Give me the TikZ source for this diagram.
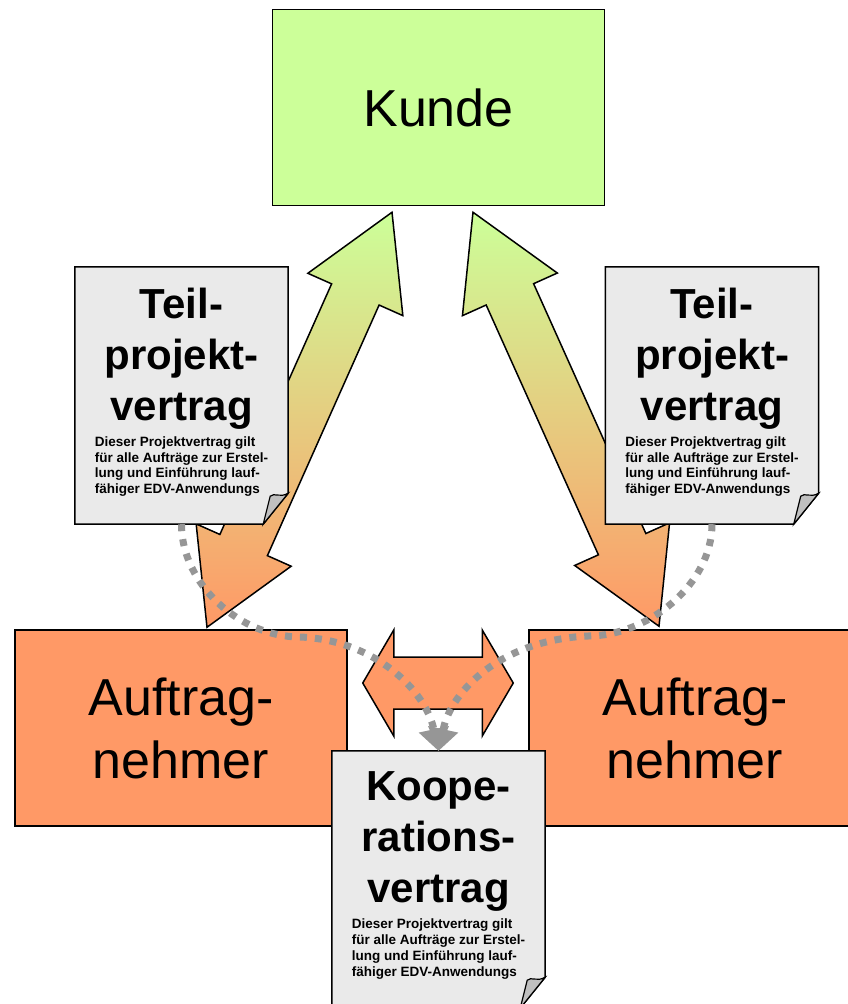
\documentclass[tikz,border=0pt]{standalone}
\usepackage{fontspec}
\setmainfont{Liberation Sans}
\usetikzlibrary{calc,positioning,arrows.meta}
\definecolor{kundegruen}{HTML}{CCFF99}
\definecolor{anorange}{HTML}{FF9966}
\definecolor{blattgrau}{HTML}{EAEAEA}
\definecolor{eckgrau}{HTML}{C0C0C0}
\definecolor{punktgrau}{HTML}{969696}

% #1 style, #2 from, #3 to, #4 head length, #5 head half width, #6 shaft half width
\newcommand\doppelpfeil[6]{%
  \coordinate (ba) at ($(#2)!#4!(#3)$);
  \coordinate (bb) at ($(#3)!#4!(#2)$);
  \draw[#1] (#2) -- ($(ba)!#5!90:(#3)$) -- ($(ba)!#6!90:(#3)$) -- ($(bb)!#6!-90:(#2)$)
    -- ($(bb)!#5!-90:(#2)$) -- (#3) -- ($(bb)!#5!90:(#2)$) -- ($(bb)!#6!90:(#2)$)
    -- ($(ba)!#6!-90:(#3)$) -- ($(ba)!#5!-90:(#3)$) -- cycle;
}
\newcommand\vertragstext{Dieser Projektvertrag gilt\\für alle Aufträge zur Erstel-\\lung und Einführung lauf-\\fähiger EDV-Anwendungs}
% #1 name, #2 centre, #3 title
\newcommand\vertrag[3]{%
  \node[blatt] (#1) at (#2) {};
  \draw[line width=1.5pt,fill=blattgrau] (#1.north west) -- (#1.north east) -- ([yshift=31pt]#1.south east)
    -- ([xshift=-25pt]#1.south east) -- (#1.south west) -- cycle;
  \draw[line width=1.2pt,fill=eckgrau] ([yshift=31pt]#1.south east) .. controls +(-8,5) and +(4,-4) .. ++(-18,3)
    -- ([xshift=-25pt]#1.south east) -- cycle;
  \node[blatttitel,below=21pt of #1.north] (#1-t) {#3};
  \node[blatttext,below=7pt of #1-t] (#1-x) {\vertragstext};
}

\begin{document}
\begin{tikzpicture}[x=1pt,y=-1pt,
  box/.style={draw,line width=1.5pt,minimum width=332pt,minimum height=196pt,inner sep=0pt,
    align=center,font=\fontsize{52}{63}\selectfont},
  blatt/.style={minimum width=213pt,minimum height=257pt,inner sep=0pt},
  blatttitel/.style={inner sep=0pt,align=center,font=\bfseries\fontsize{42}{51}\selectfont},
  blatttext/.style={inner sep=0pt,align=left,font=\bfseries\fontsize{13.5}{15.7}\selectfont},
  verlauf/.style={draw,line width=1.5pt,top color=kundegruen,bottom color=anorange},
  vlink/.style={draw=punktgrau,line width=7pt,dash pattern=on 7pt off 8pt,
    -{Triangle[width=31pt,length=22pt,line width=0pt]}}]
  \useasboundingbox (0,0) rectangle (847,1004);

  \node[box,fill=kundegruen] (kunde) at (438.5,107.5) {Kunde};
  \node[box,fill=anorange] (anl) at (181,728) {Auftrag-\\nehmer};
  \node[box,fill=anorange] (anr) at (695,728) {Auftrag-\\nehmer};

  \coordinate (kl) at ($(kunde.south)+(-46.5,6)$);
  \coordinate (kr) at ($(kunde.south)+(34.5,6)$);
  \coordinate (al) at ($(anl.north)+(26,-2)$);
  \coordinate (ar) at ($(anr.north)+(-36,-3)$);
  \coordinate (hl) at ($(anl.east)+(15,-45)$);
  \coordinate (hr) at ($(anr.west)+(-15,-45)$);

  \doppelpfeil{verlauf}{al}{kl}{90pt}{52pt}{26pt}
  \doppelpfeil{verlauf}{ar}{kr}{90pt}{52pt}{26pt}
  \doppelpfeil{draw,line width=1.5pt,fill=anorange}{hl}{hr}{31pt}{53pt}{26pt}

  \vertrag{tpl}{181.5,395.5}{Teil-\\projekt-\\vertrag}
  \vertrag{tpr}{712,395.5}{Teil-\\projekt-\\vertrag}
  \vertrag{koop}{438.5,879.5}{Koope-\\rations-\\vertrag}

  \draw[vlink] (tpl.south) .. controls +(0,60) and +(-60,0) .. (300,637)
    .. controls +(75,3) and +(-13,-60) .. (koop.north);
  \draw[vlink] (tpr.south) .. controls +(0,60) and +(60,0) .. (588,636)
    .. controls +(-87,4) and +(13,-60) .. (koop.north);
\end{tikzpicture}
\end{document}
